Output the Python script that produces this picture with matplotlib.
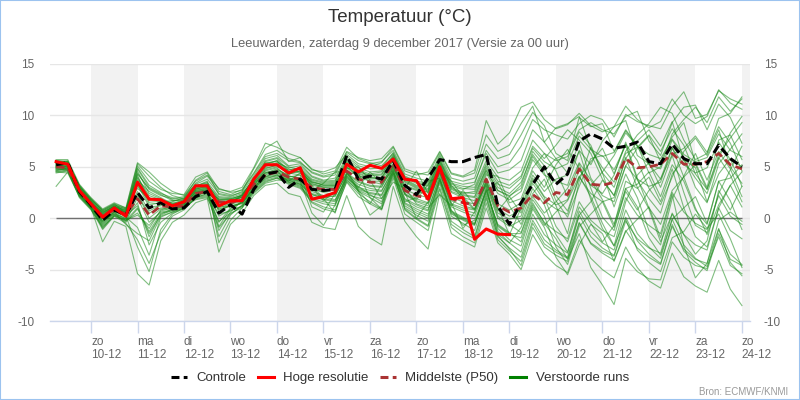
import numpy as np
import pandas as pd
import matplotlib
matplotlib.use('Agg')
import matplotlib.pyplot as plt
from matplotlib.lines import Line2D
from matplotlib.patches import Rectangle

plt.rcParams['font.family'] = ['Liberation Sans', 'DejaVu Sans']
plt.rcParams['axes.unicode_minus'] = False

# tijdstappen van 6 uur, 9-12 06:00 t/m 24-12 00:00
tijden = pd.date_range('2017-12-09 06:00', '2017-12-24 00:00', freq='6h')

controle = [5.2, 5.4, 2.6, 1.3, -0.2, 0.8, 0.3, 2.5, 1.0, 1.5, 0.9, 1.0, 2.1, 2.6, 0.5, 1.3, 0.4, 2.8, 4.3, 4.5,
            3.0, 3.8, 2.8, 2.7, 2.8, 6.1, 3.8, 4.1, 3.8, 5.6, 3.2, 2.3, 3.9, 5.7, 5.5, 5.5, 5.9, 6.2, 1.2, -0.6,
            1.5, 3.3, 5.0, 3.3, 4.3, 7.5, 8.2, 7.7, 6.8, 7.0, 7.4, 5.5, 5.3, 7.2, 5.8, 5.3, 5.3, 7.1, 5.8, 5.0]

# hoge resolutie loopt tot 19-12 00:00
hoge_resolutie = [5.5, 5.25, 2.7, 1.4, 0.1, 1.0, 0.2, 3.5, 1.85, 1.8, 1.2, 1.6, 3.15, 3.15, 1.2, 1.7, 1.7, 3.8, 5.2, 5.2,
                  4.4, 4.9, 1.85, 2.1, 2.5, 5.25, 4.5, 5.15, 4.85, 5.75, 3.8, 3.65, 1.85, 5.0, 1.9, 2.0, -2.05, -1.05, -1.55, -1.6]

middelste = [5.0, 4.9, 2.6, 1.4, 0.2, 0.8, 0.4, 1.9, 0.3, 1.2, 1.1, 1.2, 2.4, 2.6, 1.6, 1.5, 1.9, 3.3, 4.2, 4.5,
             4.0, 3.8, 3.0, 2.8, 2.8, 4.6, 3.8, 3.5, 3.5, 5.4, 2.7, 2.2, 1.9, 4.8, 1.9, 1.5, 1.3, 3.8, 1.2, 0.6,
             1.0, 2.3, 1.5, 2.5, 2.3, 4.8, 3.3, 3.2, 3.5, 5.8, 4.9, 5.0, 5.25, 6.3, 5.25, 5.25, 5.5, 6.3, 5.2, 4.8]

verstoorde_runs = [
    [5.3, 5.2, 2.9, 1.6, 0.4, 1.1, 0.2, 4.6, 2.4, 1.9, 1.3, 1.5, 3.0, 3.3, 1.8, 1.9, 2.2, 3.9, 5.1, 5.3,
     4.3, 4.6, 3.4, 3.0, 3.1, 5.2, 4.4, 4.0, 3.8, 5.9, 3.5, 2.9, 2.5, 5.3, 2.8, 2.3, 2.1, 4.9, 3.0, 2.4,
     3.5, 6.2, 4.6, 5.8, 4.4, 7.3, 3.9, 2.2, 1.6, 5.1, 6.8, 8.0, 5.5, 7.9, 9.3, 5.4, 3.0, 7.6, 8.1, 5.7],
    [4.8, 4.7, 2.4, 1.1, -0.4, 0.6, 0.6, 4.9, 3.2, 2.5, 1.8, 1.6, 2.7, 2.9, 1.2, 1.1, 1.5, 2.9, 3.8, 4.2,
     3.6, 4.4, 3.2, 1.9, 0.5, 4.1, 3.0, 4.5, 3.4, 4.7, 1.6, 2.0, 3.6, 3.9, 0.8, -0.7, -0.2, 2.6, 3.5, 1.2,
     -0.6, 2.4, 3.8, 1.2, -1.5, 3.6, 6.9, 4.4, 1.1, 4.3, 2.0, -1.2, -2.6, 1.9, 4.1, 6.3, 3.7, 6.5, 4.8, 2.1],
    [5.6, 5.5, 3.1, 1.9, 0.7, 1.3, 0.9, 5.3, 4.1, 3.0, 2.2, 1.9, 3.4, 4.1, 2.6, 2.3, 2.8, 4.4, 6.2, 6.6,
     5.8, 5.5, 4.4, 4.0, 4.2, 6.4, 5.6, 5.3, 5.5, 6.6, 4.3, 3.9, 3.6, 6.2, 3.9, 3.6, 3.9, 7.2, 5.8, 6.2,
     8.1, 10.3, 9.0, 6.3, 5.6, 9.8, 8.9, 9.2, 6.5, 8.6, 7.1, 4.4, 5.0, 8.2, 9.6, 10.8, 9.3, 11.8, 10.4, 11.6],
    [4.5, 4.4, 2.1, 0.9, -1.1, 0.2, -0.5, -2.1, -4.4, -1.5, 0.2, 0.8, 2.0, 2.2, 0.4, 0.7, 1.2, 2.6, 3.6, 3.9,
     3.5, 3.2, 1.5, 0.9, 0.6, 3.6, 2.4, 1.6, 0.9, 4.4, 0.8, -0.1, -0.8, 3.0, -0.6, -1.4, -2.0, 1.9, -1.7, -3.0,
     -4.6, -0.9, -2.8, -3.6, -4.2, -0.5, -2.5, -3.4, -4.1, -1.2, -2.9, -3.8, -4.5, -0.8, -3.0, -4.0, -4.4, -1.0, -4.3, -5.6],
    [5.1, 5.0, 2.7, 1.3, 0.1, 0.9, 0.3, 1.2, -1.8, 0.4, 0.9, 1.3, 2.5, 2.8, -0.8, 0.9, 1.6, 3.4, 4.4, 4.8,
     4.1, 3.9, 2.9, 2.5, 2.3, 4.3, 3.5, 3.1, 3.0, 5.1, 2.3, 1.6, 1.2, 4.5, 1.3, 0.8, 0.5, 3.4, 0.2, -0.6,
     -1.4, 1.8, 0.2, -2.8, -4.5, -0.8, 0.4, 1.6, -0.9, 2.6, 0.8, 2.7, 3.8, 6.9, 4.0, 1.0, -1.6, 1.3, 3.2, 1.1],
    [4.9, 5.3, 2.8, 1.5, 0.5, 1.2, 0.8, 3.9, 2.0, 1.6, 1.0, 1.2, 2.2, 2.5, 1.9, 1.8, 2.0, 3.1, 4.7, 5.0,
     4.7, 4.9, 3.8, 3.5, 3.6, 5.6, 4.7, 4.3, 4.5, 6.0, 3.9, 3.4, 3.1, 5.6, 3.3, 2.9, 2.8, 5.3, 3.6, 3.2,
     4.1, 7.0, 5.8, 7.1, 8.6, 7.6, 6.3, 3.8, 2.2, 5.8, 7.5, 8.6, 7.0, 9.4, 5.6, 3.9, 2.4, 5.8, 8.3, 9.9],
    [3.1, 4.5, 2.2, 1.0, -2.3, -0.3, -0.8, -5.4, -6.5, -2.2, -0.4, 0.3, 1.5, 1.9, -3.3, -0.6, 0.5, 2.2, 3.2, 3.4,
     2.4, 2.1, -0.4, -0.9, -1.1, 2.2, -0.8, -1.9, -2.6, 3.1, -0.3, -1.8, -3.0, 2.4, -1.5, -2.2, -2.8, 1.0, -2.4, -3.5,
     -5.0, -1.6, -3.5, -4.6, -5.3, -2.1, -3.9, -5.0, -5.8, -2.8, -4.8, -6.1, -6.8, -3.4, -5.7, -6.6, -7.2, -4.1, -6.9, -8.5],
    [5.4, 5.6, 3.0, 1.8, 0.8, 1.4, 0.5, 2.6, 0.7, 1.3, 1.6, 2.0, 3.7, 4.4, 2.3, 2.1, 2.6, 4.8, 6.8, 7.5,
     5.5, 5.9, 4.8, 4.3, 4.6, 6.9, 5.8, 5.4, 5.1, 6.3, 3.8, 3.2, 2.9, 5.7, 3.1, 2.8, 3.3, 6.6, 5.0, 5.4,
     7.0, 9.6, 8.6, 8.1, 7.7, 9.2, 10.0, 9.6, 7.9, 10.1, 9.4, 9.0, 8.7, 10.9, 12.3, 9.7, 10.1, 12.4, 11.6, 11.1],
    [5.0, 4.8, 2.5, 1.2, -0.3, 0.7, 0.1, -0.9, -3.6, 0.1, 0.6, 1.0, 2.1, 2.3, 0.9, 1.2, 1.4, 2.8, 3.9, 4.1,
     3.8, 3.5, 2.4, 2.1, 1.8, 3.9, 3.0, 2.7, 2.6, 4.9, 1.9, 1.3, 0.8, 4.0, 0.7, 0.1, -0.5, 2.9, -1.0, -2.1,
     -2.7, 0.9, -0.9, -3.8, -5.5, -2.6, -0.6, -1.5, -4.2, -1.3, -0.1, 1.1, -1.9, 2.3, -2.7, -5.8, -4.4, -0.2, 0.6, -0.3],
    [5.2, 5.1, 2.6, 1.4, 0.3, 1.0, 0.6, 4.2, 1.5, 1.4, 1.1, 1.4, 2.6, 2.7, -1.8, 0.3, 1.3, 3.0, 4.3, 4.6,
     4.0, 4.2, 1.1, 0.6, 2.4, 4.8, 5.0, 3.7, 1.9, 3.5, 2.9, 4.6, 2.4, 5.0, 3.2, 1.9, 0.8, 4.2, 4.1, 1.5,
     1.9, 4.9, 6.3, 4.6, 2.1, 5.3, 1.8, -1.0, -2.7, 1.6, 4.2, 5.4, 3.0, 6.1, 2.5, -0.7, -1.4, 2.4, 4.7, 7.0],
    [4.7, 4.9, 2.3, 1.2, -0.6, 0.5, -0.2, 0.5, -1.0, 0.8, 1.2, 1.7, 3.1, 3.5, 2.1, 2.0, 2.4, 3.6, 5.5, 5.8,
     4.6, 4.4, 3.5, 3.3, 3.4, 5.0, 4.2, 3.6, 3.3, 5.2, 2.6, 1.9, 1.5, 4.6, 1.7, 1.2, 0.9, 3.5, 0.9, 0.2,
     0.8, 3.9, 2.1, 1.3, 1.8, 4.7, 3.2, 4.5, 6.1, 8.3, 7.0, 5.2, 4.8, 7.6, 5.9, 3.0, 1.5, 5.3, 6.7, 8.2],
    [5.5, 5.4, 3.2, 1.7, 0.6, 1.1, 0.7, 5.1, 3.6, 2.8, 2.4, 2.3, 4.0, 4.5, 2.8, 2.6, 3.0, 4.9, 7.3, 6.9,
     6.3, 5.9, 4.7, 4.5, 4.9, 6.2, 5.3, 5.0, 5.4, 6.9, 4.6, 4.2, 4.5, 6.5, 4.4, 4.1, 4.7, 9.5, 7.2, 8.3,
     10.8, 11.3, 9.6, 8.7, 9.1, 10.2, 9.0, 8.4, 8.9, 10.9, 9.6, 8.8, 9.4, 11.6, 10.0, 9.2, 9.9, 12.5, 11.2, 10.6],
    [4.6, 4.6, 2.0, 0.8, -0.9, 0.3, -0.3, 2.0, -0.4, 0.6, 0.8, 1.1, 1.8, 2.0, -0.3, 0.5, 1.0, 2.4, 3.4, 3.7,
     3.7, 3.3, 2.3, 2.0, 2.2, 4.2, 3.3, 2.9, 2.7, 4.6, 1.8, 1.1, 0.7, 4.2, 1.1, 0.6, 0.2, 3.1, 0.0, -0.8,
     -0.2, 2.9, 1.3, -1.6, -3.3, 0.3, 1.6, 3.7, 2.2, 5.9, 3.0, 0.9, -2.3, 0.4, -1.6, -3.5, -2.2, 2.7, 0.8, 3.1],
    [5.3, 5.3, 2.8, 1.5, 0.2, 0.8, 0.4, 3.3, 1.1, 1.2, 1.4, 1.8, 2.9, 3.0, 1.4, 1.6, 2.1, 3.5, 4.9, 5.1,
     4.4, 4.2, 3.2, 3.0, 3.0, 5.0, 4.1, 3.8, 3.9, 5.7, 3.1, 2.7, 2.2, 5.2, 2.5, 2.0, 1.7, 4.4, 2.4, 1.8,
     2.6, 5.7, 4.2, 3.6, 3.2, 6.6, 5.2, 7.5, 8.9, 9.5, 6.1, 5.3, 3.8, 6.2, 6.8, 8.0, 6.4, 8.9, 7.3, 4.6],
    [5.1, 5.4, 2.9, 1.6, 0.0, 0.9, 0.2, -2.8, -5.2, -1.1, 0.4, 1.0, 2.3, 2.5, -1.2, 0.6, 1.7, 3.2, 4.5, 4.4,
     3.9, 3.6, 2.6, 2.2, 2.1, 4.4, 3.1, 2.3, 1.6, 4.3, 0.9, 0.0, -0.7, 3.4, -0.3, -1.1, -1.8, 2.1, -1.8, -2.9,
     -3.8, -0.2, -2.1, -3.1, -3.8, 0.3, -1.8, -2.9, -3.6, 0.1, -2.2, -3.5, -4.4, -0.6, -3.2, -4.3, -5.1, -1.5, -4.0, -4.6],
    [4.9, 5.0, 2.5, 1.3, 0.4, 1.1, 0.8, 4.4, 2.8, 2.2, 1.9, 2.1, 3.3, 3.8, 2.4, 2.2, 2.5, 4.1, 5.8, 6.1,
     5.1, 5.3, 4.1, 3.7, 3.9, 6.0, 5.1, 4.8, 4.9, 6.4, 4.1, 3.6, 3.4, 6.0, 3.6, 3.3, 3.5, 6.3, 4.4, 4.7,
     5.6, 8.6, 7.4, 8.8, 9.2, 9.9, 6.7, 4.9, 3.5, 6.5, 8.1, 9.2, 10.8, 10.2, 7.6, 5.7, 6.3, 9.7, 10.2, 11.8],
    [5.7, 5.7, 3.3, 2.0, 0.9, 1.5, 1.0, 2.9, 1.9, 1.7, 1.5, 1.5, 2.8, 3.1, 1.0, 1.4, 2.3, 3.8, 5.2, 5.6,
     4.5, 4.8, 3.6, 3.2, 3.3, 5.4, 4.6, 4.1, 4.2, 6.1, 3.7, 3.1, 2.8, 5.5, 3.0, 2.5, 2.4, 4.7, 2.7, 2.1,
     3.2, 6.5, 5.1, 2.2, 0.7, 4.0, 5.5, 6.8, 4.3, 7.2, 5.6, 2.9, 1.3, 4.0, 6.5, 7.8, 6.1, 8.6, 5.0, 3.4],
    [4.4, 4.6, 2.2, 1.0, -0.2, 0.4, 0.0, 1.5, -2.6, -0.4, 0.5, 0.9, 2.0, 2.4, 0.2, 0.8, 1.1, 2.7, 3.7, 4.0,
     3.4, 3.0, 1.8, 1.4, 1.2, 3.8, 2.6, 2.0, 1.4, 4.1, 1.0, 0.3, -0.3, 3.6, 0.2, -0.5, -1.2, 2.3, -1.3, -2.4,
     -3.3, 0.4, -1.6, -2.6, -3.4, 0.7, -1.3, -2.4, -3.1, 0.8, -1.5, -2.8, -3.9, -0.1, -2.6, -3.9, -4.7, -1.8, -4.6, -5.4],
    [5.2, 5.2, 2.7, 1.4, 0.1, 1.0, 0.5, 4.0, 2.2, 1.8, 1.2, 1.4, 2.4, 2.6, 1.5, 1.5, 1.8, 3.3, 4.4, 4.7,
     4.2, 5.0, 3.0, 1.7, 2.6, 4.7, 2.7, 1.4, 3.3, 5.3, 2.5, 0.0, 1.6, 4.7, 3.6, 2.1, 0.9, 3.7, 1.0, -1.6,
     1.0, 4.2, 2.6, 3.8, 4.2, 6.5, 2.9, 0.1, -1.2, 2.9, 3.3, 4.5, 2.1, 5.2, 3.6, 0.8, -0.6, 3.6, 3.9, 5.2],
    [5.0, 4.9, 2.6, 1.5, 0.6, 1.2, 0.4, 2.2, 0.5, 1.0, 1.0, 1.3, 2.6, 2.9, 1.7, 1.7, 2.0, 3.5, 4.6, 4.9,
     3.9, 3.7, 2.8, 2.6, 2.7, 4.4, 3.6, 3.2, 3.1, 5.0, 2.3, 1.7, 1.4, 4.4, 1.4, 1.0, 0.8, 3.3, 0.5, -0.1,
     0.2, 3.4, 1.7, 0.9, 0.4, 4.0, 2.4, 1.6, 2.0, 5.1, 3.8, 3.1, 3.5, 6.8, 5.2, 4.4, 4.9, 7.4, 5.7, 5.0],
    [4.8, 5.1, 2.4, 1.1, -0.5, 0.6, -0.1, 3.6, 1.3, 1.5, 1.3, 1.6, 2.8, 3.2, 2.0, 1.9, 2.2, 3.7, 5.4, 5.5,
     4.8, 4.5, 3.3, 3.1, 3.2, 4.9, 4.0, 3.6, 3.6, 5.6, 2.8, 2.3, 2.0, 4.9, 2.0, 1.6, 1.4, 3.9, 1.4, 0.8,
     1.5, 4.6, 3.0, 5.2, 6.7, 4.8, 3.2, 2.4, 4.2, 7.4, 3.9, 1.0, -0.6, 2.7, 4.0, 5.2, 2.8, 5.9, 4.2, 1.6],
    [5.4, 5.3, 3.0, 1.7, 0.5, 1.2, 0.7, 4.8, 3.0, 2.4, 2.0, 1.8, 3.1, 3.6, 0.6, 1.3, 1.9, 3.6, 5.0, 5.4,
     4.9, 5.1, 4.0, 3.6, 3.7, 5.8, 4.9, 4.5, 4.6, 6.2, 4.0, 3.5, 3.2, 5.8, 3.4, 3.1, 3.0, 5.6, 4.0, 3.7,
     4.6, 7.6, 6.3, 5.6, 6.0, 8.4, 7.1, 4.4, 3.0, 6.3, 6.9, 8.1, 6.5, 8.7, 7.1, 4.3, 2.8, 6.2, 7.8, 9.3],
    [4.9, 4.7, 2.3, 1.0, -0.7, 0.4, -0.4, 0.9, -1.3, 0.5, 0.7, 1.1, 2.2, 2.6, 1.3, 1.4, 1.6, 3.0, 4.1, 4.3,
     3.6, 3.3, 2.1, 1.8, 1.6, 4.0, 2.8, 2.4, 2.2, 4.5, 1.4, 0.7, 0.2, 3.7, 0.4, -0.2, -0.7, 2.8, -0.8, -1.6,
     -1.9, 1.3, -0.4, -1.3, -2.0, 1.6, -0.2, -1.2, -1.8, 2.0, 0.3, -0.7, -1.5, 2.5, 0.6, -0.5, -1.1, 2.2, 0.2, -0.6],
    [5.3, 5.5, 3.1, 1.8, 0.7, 1.3, 0.9, 3.1, 1.7, 1.6, 1.7, 1.9, 3.2, 3.4, 1.6, 1.6, 2.1, 3.9, 5.6, 5.9,
     5.0, 4.7, 3.7, 3.4, 3.5, 5.5, 4.5, 4.2, 4.3, 5.9, 3.6, 3.0, 2.7, 5.4, 2.9, 2.4, 2.6, 5.1, 3.3, 2.9,
     3.9, 6.8, 5.5, 4.8, 5.3, 8.0, 6.7, 6.0, 6.4, 8.5, 7.0, 6.2, 5.8, 7.7, 6.2, 5.5, 5.9, 8.2, 6.6, 6.0],
    [5.0, 5.0, 2.6, 1.3, 0.0, 0.8, 0.3, 2.4, 0.0, 0.9, 0.9, 1.2, 2.3, 2.5, -0.4, 1.0, 1.5, 3.1, 4.0, 4.5,
     3.8, 3.6, 0.5, -0.7, 1.3, 4.3, 4.4, 2.0, 0.9, 4.8, 3.0, 1.4, 1.0, 2.3, 1.2, 2.7, 1.3, 3.2, -1.6, -2.4,
     -0.9, 2.1, 0.5, 1.6, 2.9, 5.4, 3.7, 1.8, -0.6, 2.9, 1.1, -1.9, -3.6, -0.1, 1.0, 2.1, -0.5, 3.6, 1.7, -1.1],
    [5.6, 5.5, 3.2, 1.9, 0.8, 1.4, 1.0, 5.4, 4.5, 3.4, 2.6, 2.2, 3.6, 4.2, 2.9, 2.5, 2.7, 4.3, 6.0, 6.3,
     5.6, 5.4, 4.5, 4.1, 4.4, 6.5, 5.9, 5.6, 5.8, 7.0, 4.8, 4.4, 4.2, 6.4, 4.3, 4.0, 4.4, 8.1, 6.5, 7.1,
     9.2, 10.9, 7.4, 5.8, 6.3, 8.6, 9.3, 8.6, 8.2, 9.9, 10.4, 7.5, 6.1, 9.3, 10.8, 11.0, 8.6, 11.1, 9.8, 7.3],
    [4.7, 4.8, 2.3, 1.1, -0.3, 0.6, -0.6, -1.5, -2.2, 0.2, 0.6, 1.0, 1.9, 2.1, -0.9, 0.4, 1.2, 2.5, 3.5, 3.9,
     3.3, 2.9, 1.6, 1.1, 0.8, 3.5, 2.1, 1.4, 0.8, 3.9, 0.4, -0.4, -1.2, 2.8, -0.9, -1.8, -2.4, 1.5, -2.1, -3.2,
     -4.2, -0.5, -2.5, -3.3, -3.9, -0.4, -2.4, -3.2, -3.7, -0.3, -2.0, -2.9, -3.4, 0.5, -1.6, -2.6, -3.1, 1.0, -1.2, -2.0],
    [5.1, 5.1, 2.7, 1.4, 0.3, 1.0, 0.5, 3.7, 2.6, 2.0, 1.4, 1.5, 2.7, 3.0, 1.1, 1.7, 2.2, 3.4, 4.8, 5.2,
     4.4, 4.6, 3.5, 3.2, 3.2, 5.3, 4.3, 3.9, 4.0, 5.8, 3.2, 2.8, 2.6, 5.1, 2.6, 2.2, 2.0, 4.6, 2.7, 2.2,
     2.9, 6.0, 4.4, 1.7, 0.1, 3.1, 5.8, 6.1, 4.7, 7.1, 3.7, 1.9, 0.5, 4.3, 5.7, 4.9, 1.6, 4.3, 5.8, 3.1],
    [4.6, 4.9, 2.4, 1.2, -1.0, 0.3, -0.2, 0.3, -0.7, 0.7, 1.0, 1.4, 2.5, 2.8, 1.8, 1.8, 2.3, 3.8, 5.3, 5.6,
     4.1, 3.9, 2.7, 3.4, 4.5, 4.5, 2.6, 0.3, 1.2, 5.2, 2.4, 1.8, 3.3, 4.4, 1.5, -1.0, 0.6, 3.6, 0.7, 2.1,
     0.5, 3.7, 2.0, -0.8, -2.3, 1.1, -0.5, -2.3, -0.7, 3.6, 2.9, 4.0, 1.6, 4.8, 1.0, -1.8, -2.8, 1.0, 3.2, 4.5],
    [5.4, 5.2, 2.9, 1.6, 0.2, 1.1, 0.6, 4.3, 2.9, 2.3, 1.7, 1.7, 2.9, 3.3, -2.4, -0.2, 1.0, 2.9, 4.2, 4.6,
     3.5, 3.1, 1.9, 1.6, 1.4, 3.7, 2.7, 2.2, 1.9, 4.4, 1.2, 0.5, 0.0, 3.8, 0.6, 0.0, -0.6, 2.5, -0.6, -1.4,
     -2.3, 1.1, -0.7, 0.6, 1.7, 4.1, 2.1, -0.5, -2.7, -0.1, -3.1, -4.3, -5.2, -1.9, -1.3, 0.4, -1.0, 0.4, -2.0, -4.8],
    [4.5, 4.7, 2.1, 0.9, -0.8, 0.2, -0.2, 1.0, -1.5, 0.3, 0.8, 1.2, 2.3, 2.5, 0.8, 1.2, 1.5, 2.9, 4.0, 4.2,
     3.7, 3.4, 2.3, 1.9, 1.7, 4.1, 2.9, 2.5, 2.3, 4.6, 1.5, 0.9, 0.4, 3.8, 0.5, -0.1, -0.6, 2.7, -0.7, -1.5,
     -1.5, 1.5, -0.5, -2.0, -4.0, -1.5, -4.8, -6.5, -8.4, -3.9, -5.2, -5.9, -6.0, -2.3, -3.8, -4.6, -4.9, -1.1, -3.5, -4.5],
]

dagnamen = ['ma', 'di', 'wo', 'do', 'vr', 'za', 'zo']
dagen = pd.date_range('2017-12-10', '2017-12-24', freq='D')
y_ticks = [-10, -5, 0, 5, 10, 15]

kleur_tekst = '#666666'
kleur_as = '#ccd6eb'

fig = plt.figure(figsize=(8, 4), dpi=100)
ax = fig.add_axes([50 / 800, 79 / 400, 700 / 800, 257 / 400])

# grijze banden op even dagen
for d in dagen:
    if d.day % 2 == 0:
        ax.axvspan(d, d + pd.Timedelta(days=1), color='#f2f2f2', lw=0, zorder=0)

for y in y_ticks:
    ax.axhline(y, color='#e6e6e6', lw=1, zorder=0.5)
ax.hlines(0, tijden[0], tijden[-1], color='#707070', lw=1, zorder=0.6)

for run in verstoorde_runs:
    ax.plot(tijden, run, color='#1a8a1a', lw=0.8, alpha=0.55, zorder=2)

ax.plot(tijden, middelste, color='#aa3333', lw=2, dashes=(3, 1.6), zorder=3)
ax.plot(tijden, controle, color='black', lw=2.2, dashes=(3, 1.4), zorder=4)
ax.plot(tijden[:len(hoge_resolutie)], hoge_resolutie, color='#ff0000', lw=2.2, zorder=5)

ax.set_xlim(pd.Timestamp('2017-12-09 02:50'), pd.Timestamp('2017-12-24 04:10'))
ax.set_ylim(-10, 15)

ax.set_xticks(dagen)
ax.set_xticklabels([f"{dagnamen[d.weekday()]}\n{d:%d-%m}" for d in dagen])
for lbl in ax.get_xticklabels():
    lbl.set_horizontalalignment('left')
ax.tick_params(axis='x', direction='out', length=8.5, width=1, color=kleur_as,
               labelcolor=kleur_tekst, labelsize=8.5, pad=2)

ax.set_yticks(y_ticks)
ax.tick_params(axis='y', length=0, labelcolor=kleur_tekst, labelsize=8.5, pad=11)

for s in ['top', 'right', 'left']:
    ax.spines[s].set_visible(False)
ax.spines['bottom'].set_color(kleur_as)
ax.spines['bottom'].set_linewidth(1)
ax.spines['bottom'].set_zorder(1)

ax2 = ax.twinx()
ax2.set_ylim(-10, 15)
ax2.set_yticks(y_ticks)
ax2.tick_params(axis='y', length=0, labelcolor=kleur_tekst, labelsize=8.5, pad=10)
for s in ax2.spines.values():
    s.set_visible(False)

fig.text(0.5, 1 - 18 / 400, 'Temperatuur (°C)', ha='center', va='center',
         fontsize=13.5, color='#333333')
fig.text(0.5, 1 - 44 / 400, 'Leeuwarden, zaterdag 9 december 2017 (Versie za 00 uur)',
         ha='center', va='center', fontsize=9.3, color=kleur_tekst)

handles = [
    Line2D([], [], color='black', lw=2.2, dashes=(2.6, 1.4)),
    Line2D([], [], color='#ff0000', lw=2.2),
    Line2D([], [], color='#aa3333', lw=2.2, dashes=(2.6, 1.4)),
    Line2D([], [], color='#008000', lw=2.2),
]
labels = ['Controle', 'Hoge resolutie', 'Middelste (P50)', 'Verstoorde runs']
fig.legend(handles, labels, loc='center', bbox_to_anchor=(0.5, 1 - 378 / 400), ncol=4,
           frameon=False, fontsize=9.5, handlelength=1.2, handletextpad=0.7,
           columnspacing=0.9, labelcolor='#333333')

fig.text(788 / 800, 1 - 392 / 400, 'Bron: ECMWF/KNMI', ha='right', va='center',
         fontsize=7, color='#999999')

fig.patches.append(Rectangle((0, 0), 1, 1, transform=fig.transFigure, fill=False,
                             edgecolor='#9cc3ef', lw=1.5))

fig.savefig('out.png', dpi=100)
